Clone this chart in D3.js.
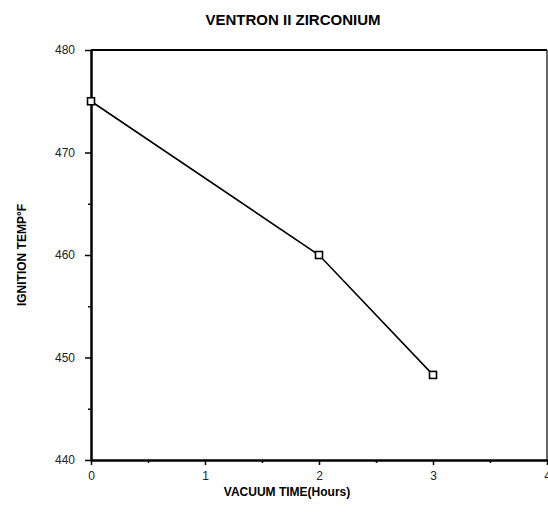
<!DOCTYPE html>
<html>
<head>
<meta charset="utf-8">
<script src="https://cdn.jsdelivr.net/npm/d3@7"></script>
<style>
  body { margin: 0; background: #fff; }
  svg { display: block; font-family: "DejaVu Sans", sans-serif; }
  .tick text { font-size: 12px; fill: #222; }
</style>
</head>
<body>
<svg width="548" height="523"></svg>
<script>
var hours = [0, 2, 3];
var temps = [475, 460, 448.3];
var xTicks = [0, 1, 2, 3, 4];
var yTicks = [440, 450, 460, 470, 480];

var margin = {top: 50, right: 1, bottom: 63, left: 91};
var svg = d3.select("svg");
var width = 548 - margin.left - margin.right;
var height = 523 - margin.top - margin.bottom;
var g = svg.append("g").attr("transform", "translate(" + margin.left + "," + margin.top + ")");

var x = d3.scaleLinear().domain([0, 4]).range([0, width]);
var y = d3.scaleLinear().domain([440, 480]).range([height, 0]);

// frame: top and right thinner
g.append("line").attr("x1", 0).attr("x2", width).attr("y1", 0).attr("y2", 0)
  .attr("stroke", "#000").attr("stroke-width", 2);
g.append("line").attr("x1", width).attr("x2", width).attr("y1", 0).attr("y2", height)
  .attr("stroke", "#000").attr("stroke-width", 1.2);

// minor ticks
g.append("g").attr("class", "minor")
  .attr("transform", "translate(0," + height + ")")
  .call(d3.axisBottom(x).tickValues([0.5, 1.5, 2.5, 3.5]).tickSize(3).tickFormat(""))
  .call(function(s) { s.select(".domain").remove(); s.selectAll("line").attr("stroke-width", 1.5); });
g.append("g").attr("class", "minor")
  .call(d3.axisLeft(y).tickValues([445, 455, 465, 475]).tickSize(3).tickFormat(""))
  .call(function(s) { s.select(".domain").remove(); s.selectAll("line").attr("stroke-width", 1.5); });

// major axes
var xAxis = g.append("g")
  .attr("transform", "translate(0," + height + ")")
  .call(d3.axisBottom(x).tickValues(xTicks).tickSize(5).tickSizeOuter(0).tickPadding(6).tickFormat(d3.format("d")));
xAxis.select(".domain").attr("stroke-width", 2.5);
xAxis.selectAll(".tick line").attr("stroke-width", 1.5);

var yAxis = g.append("g")
  .call(d3.axisLeft(y).tickValues(yTicks).tickSize(6).tickSizeOuter(0).tickPadding(10).tickFormat(d3.format("d")));
yAxis.select(".domain").attr("stroke-width", 2.5);
yAxis.selectAll(".tick line").attr("stroke-width", 1.5);

// data line
var pts = hours.map(function(h, i) { return {h: h, t: temps[i]}; });
g.append("path").datum(pts)
  .attr("fill", "none").attr("stroke", "#000").attr("stroke-width", 1.6)
  .attr("d", d3.line().x(function(d) { return x(d.h); }).y(function(d) { return y(d.t); }));

g.selectAll("rect.pt").data(pts).enter().append("rect").attr("class", "pt")
  .attr("x", function(d) { return x(d.h) - 3.5; })
  .attr("y", function(d) { return y(d.t) - 3.5; })
  .attr("width", 7).attr("height", 7)
  .attr("fill", "#fff").attr("stroke", "#000").attr("stroke-width", 1.6);

// titles
svg.append("text").attr("x", 293).attr("y", 25)
  .attr("text-anchor", "middle").style("font-size", "15px").style("font-weight", "bold")
  .style("font-family", "'Liberation Sans', sans-serif")
  .text("VENTRON II ZIRCONIUM");

svg.append("text").attr("x", 287).attr("y", 496)
  .attr("text-anchor", "middle").style("font-size", "12px").style("font-weight", "bold")
  .style("font-family", "'Liberation Sans', sans-serif")
  .text("VACUUM TIME(Hours)");

svg.append("text")
  .attr("transform", "translate(26,255) rotate(-90)")
  .attr("text-anchor", "middle").style("font-size", "12px").style("font-weight", "bold")
  .style("font-family", "'Liberation Sans', sans-serif")
  .text("IGNITION TEMP°F");
</script>
</body>
</html>
